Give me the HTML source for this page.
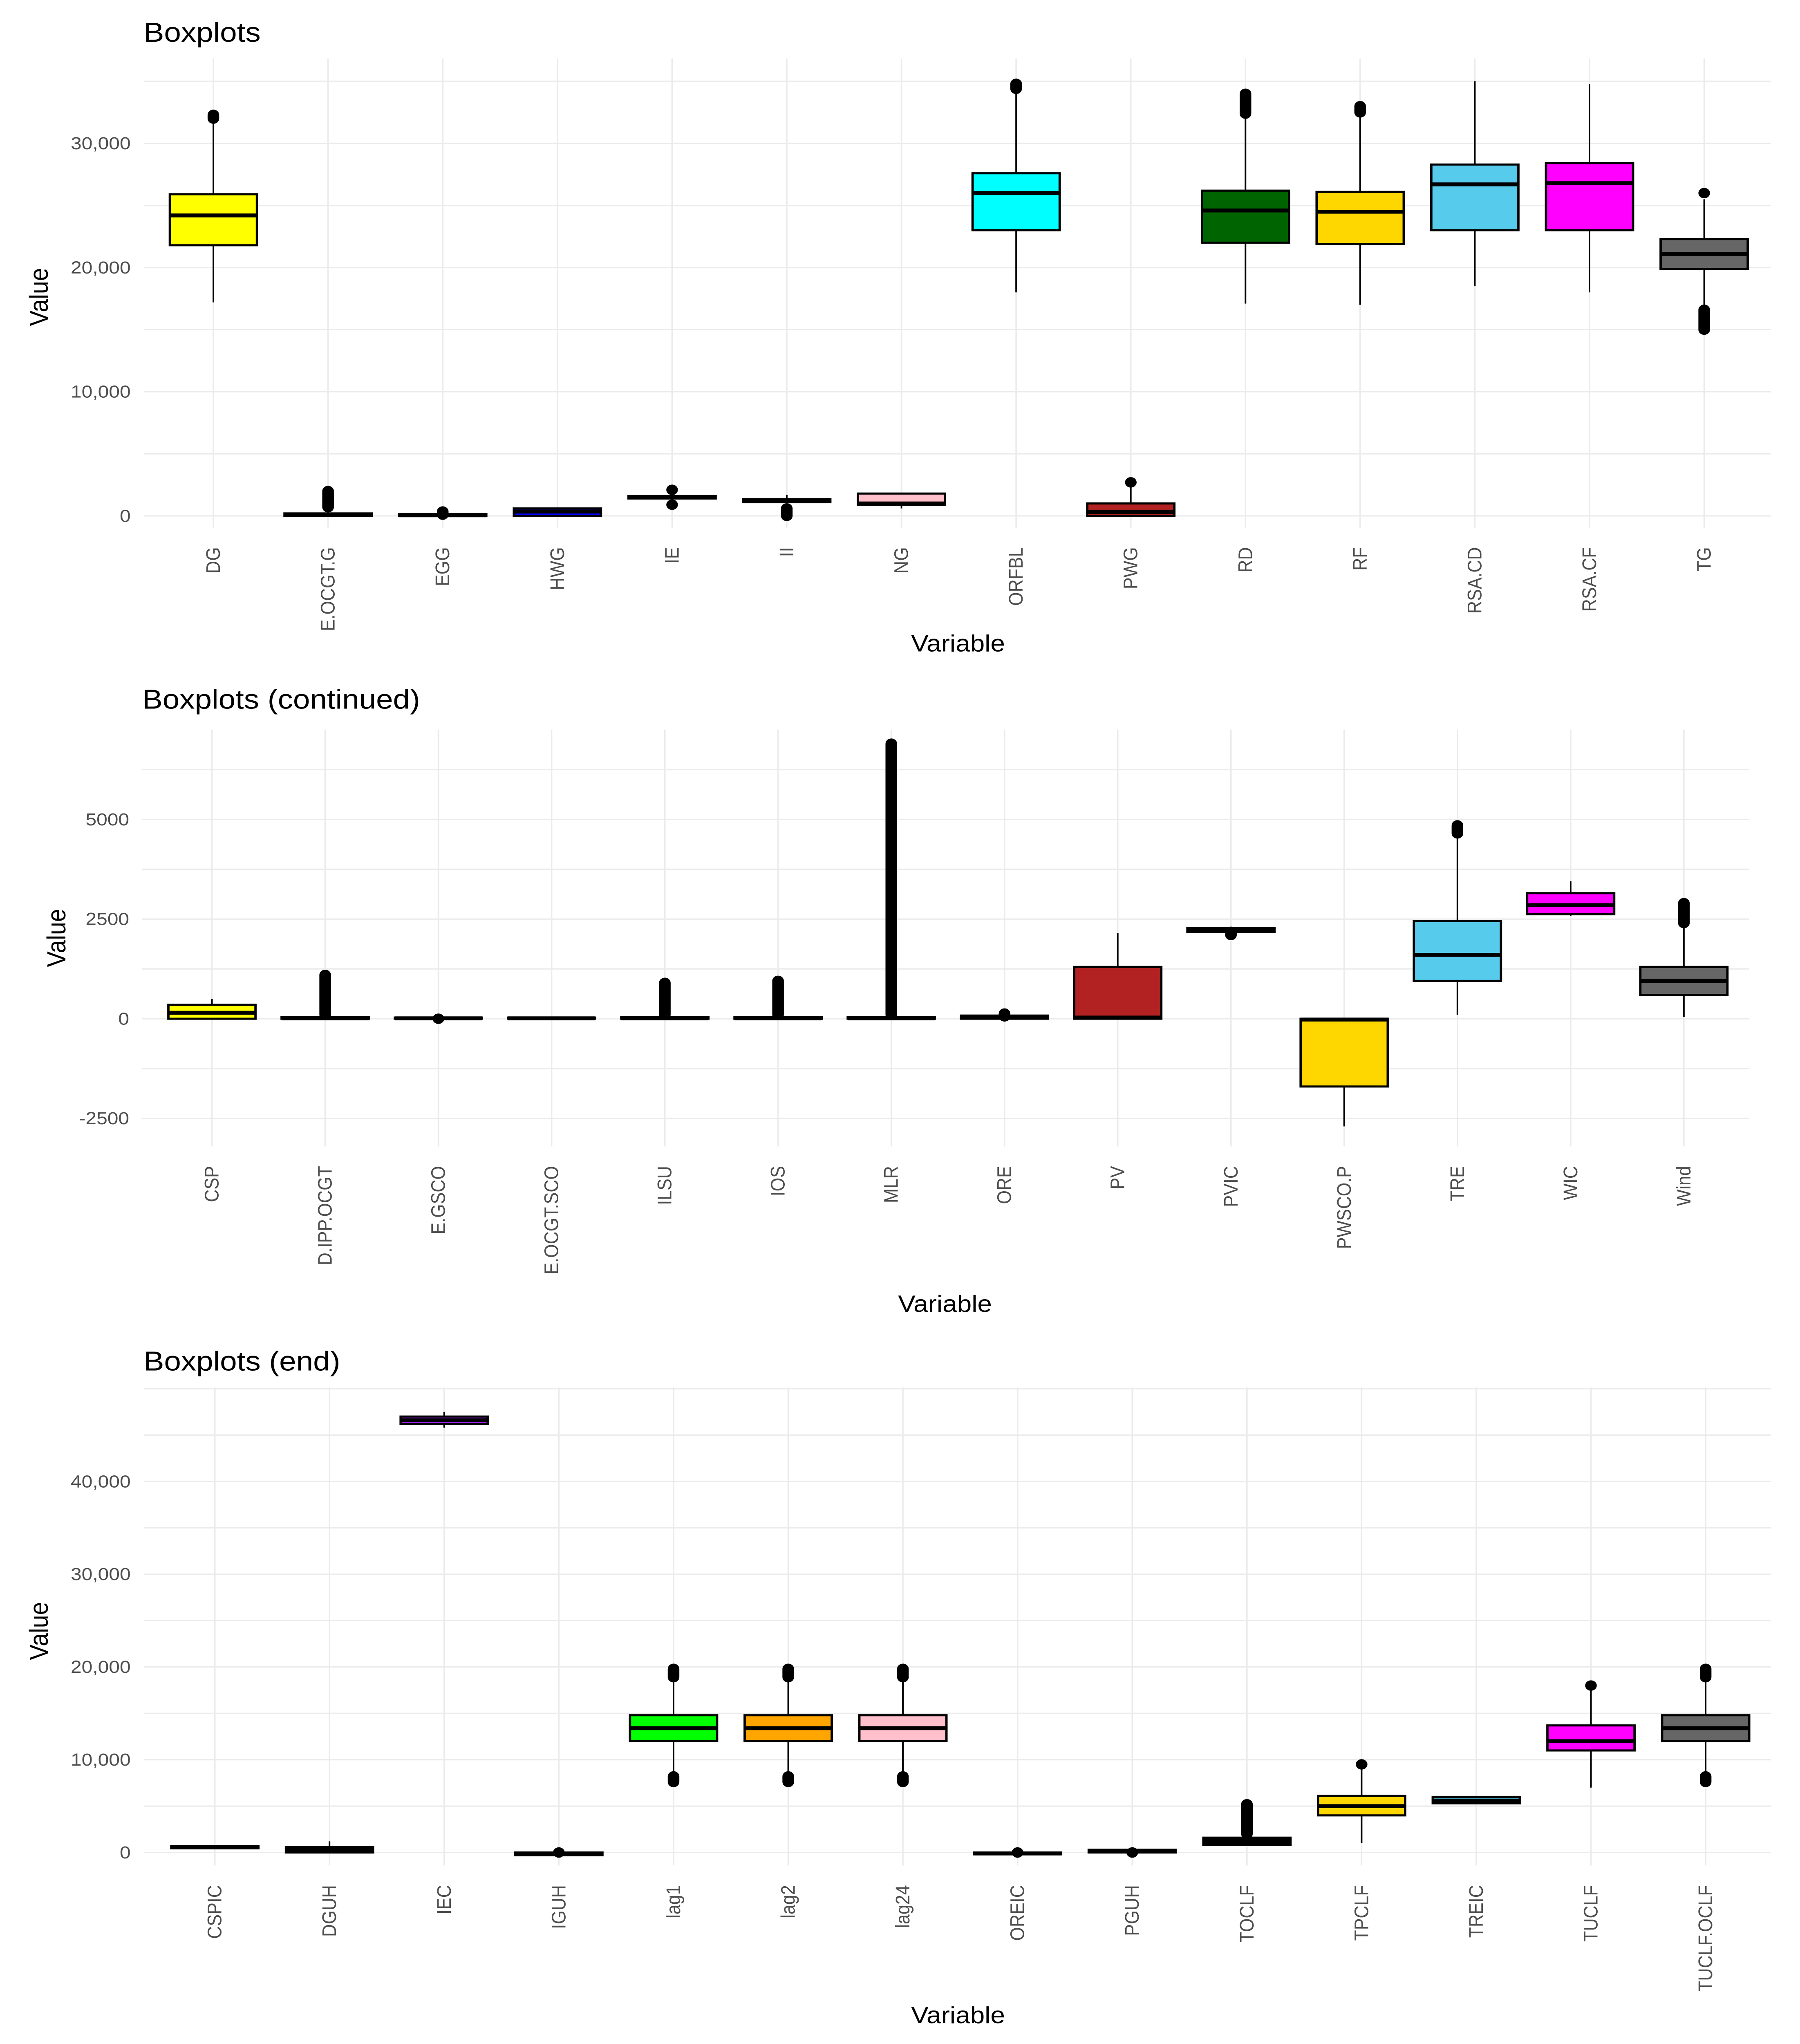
<!DOCTYPE html>
<html><head><meta charset="utf-8"><style>
html,body{margin:0;padding:0;background:#fff;width:100vw;height:100vh;overflow:hidden;}
svg{display:block;position:absolute;left:0;top:0;width:100vw;height:100vh;}
text{font-family:"Liberation Sans",sans-serif;}
</style></head><body>
<svg id="chart" xmlns="http://www.w3.org/2000/svg" viewBox="0 0 1240 1569" preserveAspectRatio="none"></svg>
<script>
// ---- Panel 1 data ----
const p1Names = ["DG","E.OCGT.G","EGG","HWG","IE","II","NG","ORFBL","PWG","RD","RF","RSA.CD","RSA.CF","TG"];
const p1Colors = ["#ffff00","#000000","#000000","#0000ff","#000000","#000000","#ffc0cb","#00ffff","#b22222","#006400","#ffd700","#56cbec","#ff00ff","#666666"];
const p1Lo  = [17200,0,0,0,1400,1100,600,18000,0,17100,17000,18500,18000,17000];
const p1Q1  = [21800,0,0,0,1400,1100,900,23000,0,22000,21900,23000,23000,19900];
const p1Med = [24200,100,50,350,1500,1200,1000,26000,300,24600,24500,26700,26800,21100];
const p1Q3  = [25900,200,150,600,1600,1350,1800,27600,1000,26200,26100,28300,28400,22300];
const p1Hi  = [31800,500,200,600,1600,1700,1800,34000,2500,32000,32400,35000,34800,25500];
const p1Out = [[[32000,32300]],[[700,2000]],[[100,350]],[],[[2100,2100],[900,900]],[[0,600]],[],[[34400,34800]],[[2700,2700]],[[32400,34000]],[[32500,33000]],[],[],[[26000,26000],[15000,16600]]];
const p1Ticks = [0,10000,20000,30000];
const p1TickLabels = ["0","10,000","20,000","30,000"];

// ---- Panel 2 data ----
const p2Names = ["CSP","D.IPP.OCGT","E.GSCO","E.OCGT.SCO","ILSU","IOS","MLR","ORE","PV","PVIC","PWSCO.P","TRE","WIC","Wind"];
const p2Colors = ["#ffff00","#000000","#000000","#000000","#000000","#000000","#000000","#000000","#b22222","#000000","#ffd700","#56cbec","#ff00ff","#666666"];
const p2Lo  = [0,0,0,0,0,0,0,0,0,2180,-2700,100,2580,50];
const p2Q1  = [0,0,0,0,0,0,0,0,0,2180,-1700,950,2620,600];
const p2Med = [150,10,10,10,10,10,10,40,30,2230,-20,1600,2850,950];
const p2Q3  = [350,40,30,30,40,40,40,80,1300,2280,0,2450,3150,1300];
const p2Hi  = [500,50,30,30,50,50,50,80,2150,2280,0,4600,3450,2300];
const p2Out = [[],[[100,1100]],[[0,0]],[],[[100,900]],[[100,950]],[[100,6900]],[[60,130]],[],[[2100,2180]],[],[[4650,4850]],[],[[2400,2900]]];
const p2Ticks = [-2500,0,2500,5000];
const p2TickLabels = ["-2500","0","2500","5000"];

// ---- Panel 3 data ----
const p3Names = ["CSPIC","DGUH","IEC","IGUH","lag1","lag2","lag24","OREIC","PGUH","TOCLF","TPCLF","TREIC","TUCLF","TUCLF.OCLF"];
const p3Colors = ["#ffff00","#ff0000","#a020f0","#0000ff","#00ff00","#ffa500","#ffc0cb","#000000","#000000","#000000","#ffd700","#56cbec","#ff00ff","#666666"];
const p3Lo  = [450,0,45800,-300,8500,8500,8500,-200,0,700,1000,5300,7000,8500];
const p3Q1  = [450,0,46200,-300,12000,12000,12000,-200,0,800,4000,5300,11000,12000];
const p3Med = [600,300,46600,-150,13400,13400,13400,-100,150,1200,5000,5600,12000,13400];
const p3Q3  = [700,600,47000,0,14800,14800,14800,0,300,1600,6100,6000,13700,14800];
const p3Hi  = [700,1200,47500,0,18500,18500,18500,0,300,1800,9000,6000,17500,18500];
const p3Out = [[],[],[],[[0,0]],[[18900,19800],[7600,8200]],[[18900,19800],[7600,8200]],[[18900,19800],[7600,8200]],[[0,0]],[[0,0]],[[2000,5200]],[[9500,9500]],[],[[18000,18000]],[[18900,19800],[7600,8200]]];
const p3Ticks = [0,10000,20000,30000,40000];
const p3TickLabels = ["0","10,000","20,000","30,000","40,000"];

const NS = "http://www.w3.org/2000/svg";
const svg = document.getElementById("chart");
function mk(tag, attrs, parent, txt){
  const e = document.createElementNS(NS, tag);
  for (const k in attrs) e.setAttribute(k, attrs[k]);
  if (txt !== undefined) e.textContent = txt;
  (parent || svg).appendChild(e);
  return e;
}

function panel(cfg){
  const g = mk("g", {});
  
  
  const y = v => cfg.y0 - (v - cfg.vBase) * cfg.ppu;
  const x = i => cfg.x0 + i * cfg.step;
  const mt = cfg.ticks;
  const d = mt[1] - mt[0];
  for (let v = mt[0] - d / 2; v <= cfg.vTop; v += d / 2) {
    const yy = y(v);
    if (yy < cfg.top || yy > cfg.bottom) continue;
    const ln = mk("line", {x1: cfg.left, x2: cfg.right, y1: yy, y2: yy, stroke: "#ebebeb", "stroke-width": 1}, g);
    
    
  }
  cfg.names.forEach((n, i) => {
    const ln = mk("line", {x1: x(i), x2: x(i), y1: cfg.top, y2: cfg.bottom, stroke: "#ebebeb", "stroke-width": 1}, g);
    
    
  });
  cfg.ticks.forEach((v, i) => {
    const t = mk("text", {x: cfg.left - 9, y: y(v) + 4.5, "text-anchor": "end", "font-size": 13.5, fill: "#4d4d4d"}, g, cfg.tickLabels[i]);
    
    
  });
  const bw = 30;
  cfg.names.forEach((n, i) => {
    const bg = mk("g", {}, g);
    
    
    const cx = x(i);
    mk("line", {x1: cx, x2: cx, y1: y(cfg.hi[i]), y2: y(cfg.q3[i]), stroke: "#000", "stroke-width": 1.1}, bg);
    mk("line", {x1: cx, x2: cx, y1: y(cfg.q1[i]), y2: y(cfg.lo[i]), stroke: "#000", "stroke-width": 1.1}, bg);
    const yt = y(cfg.q3[i]), yb = y(cfg.q1[i]);
    mk("rect", {x: cx - bw, y: yt, width: bw * 2, height: Math.max(yb - yt, 0.5), fill: cfg.colors[i], stroke: "#000", "stroke-width": 1.6}, bg);
    mk("line", {x1: cx - bw, x2: cx + bw, y1: y(cfg.med[i]), y2: y(cfg.med[i]), stroke: "#000", "stroke-width": 3}, bg);
    cfg.out[i].forEach(o => {
      const p = mk("line", {x1: cx, x2: cx, y1: y(o[0]), y2: y(o[1]) - 0.01, stroke: "#000", "stroke-width": 8, "stroke-linecap": "round"}, bg);
      
      
    });
    const t = mk("text", {transform: `translate(${cx + 4.5},${cfg.bottom + 15}) rotate(-90)`, "text-anchor": "end", "font-size": 13.5, fill: "#4d4d4d"}, g, n);
    
    
  });
  const tt = mk("text", {x: cfg.left, y: cfg.titleY, "font-size": 21, fill: "#000"}, g, cfg.title);
  
  
  const yt = mk("text", {transform: `translate(${cfg.valX},${cfg.valY}) rotate(-90)`, "text-anchor": "middle", "font-size": 18, fill: "#000"}, g, "Value");
  
  
  const xt = mk("text", {x: cfg.varX, y: cfg.varY, "text-anchor": "middle", "font-size": 18, fill: "#000"}, g, "Variable");
  
  
}

panel({key: "p1", names: p1Names, colors: p1Colors, lo: p1Lo, q1: p1Q1, med: p1Med, q3: p1Q3, hi: p1Hi, out: p1Out,
  ticks: p1Ticks, tickLabels: p1TickLabels, vBase: 0, y0: 396, ppu: 95.3 / 10000, vTop: 37000,
  x0: 147, step: 79, left: 99, right: 1220, top: 45, bottom: 405,
  title: "Boxplots", titleY: 32, valX: 33, valY: 228, varX: 660, varY: 500});
panel({key: "p2", names: p2Names, colors: p2Colors, lo: p2Lo, q1: p2Q1, med: p2Med, q3: p2Q3, hi: p2Hi, out: p2Out,
  ticks: p2Ticks, tickLabels: p2TickLabels, vBase: 0, y0: 782, ppu: 76.5 / 2500, vTop: 7400,
  x0: 146, step: 78, left: 98, right: 1205, top: 560, bottom: 880,
  title: "Boxplots (continued)", titleY: 544, valX: 45, valY: 720, varX: 651, varY: 1007});
panel({key: "p3", names: p3Names, colors: p3Colors, lo: p3Lo, q1: p3Q1, med: p3Med, q3: p3Q3, hi: p3Hi, out: p3Out,
  ticks: p3Ticks, tickLabels: p3TickLabels, vBase: 0, y0: 1422, ppu: 71.2 / 10000, vTop: 50500,
  x0: 148, step: 79, left: 99, right: 1220, top: 1065, bottom: 1432,
  title: "Boxplots (end)", titleY: 1052, valX: 33, valY: 1252, varX: 660, varY: 1553});
</script>
</body></html>
